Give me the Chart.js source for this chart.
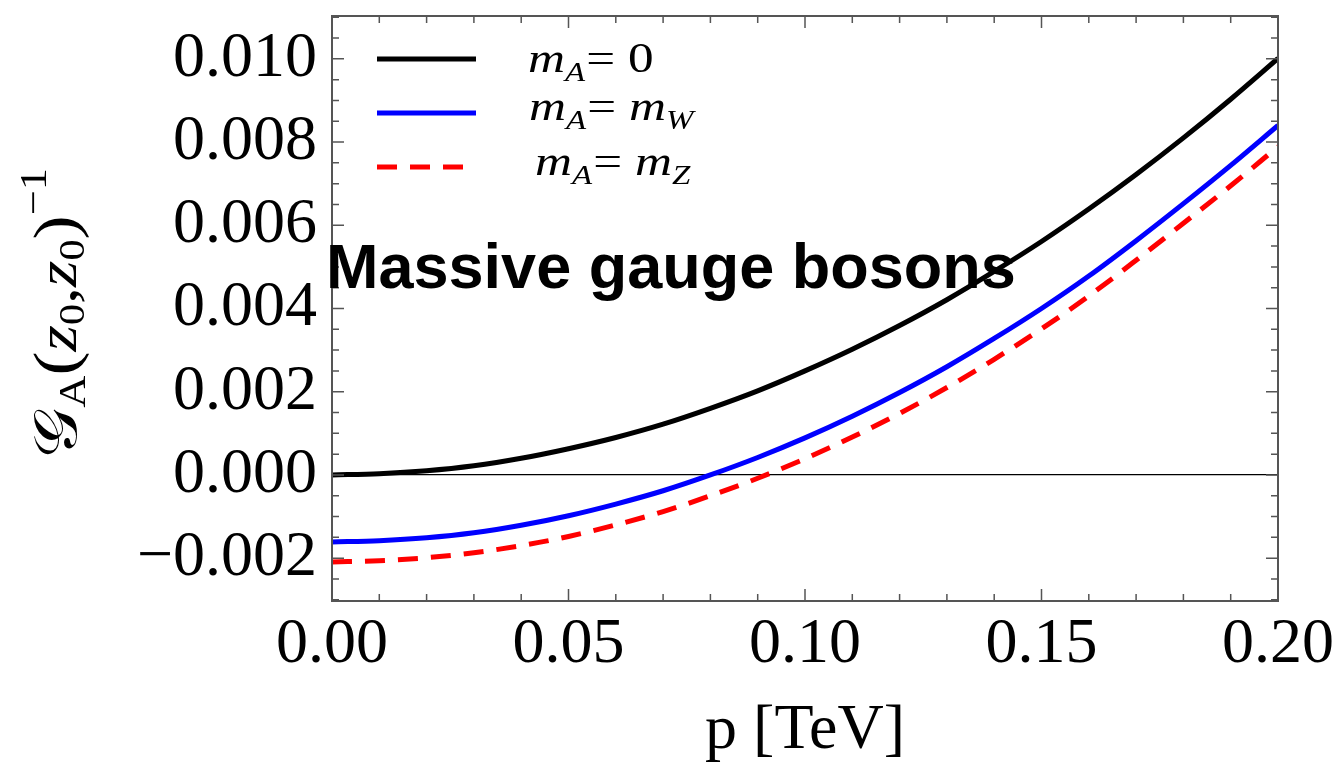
<!DOCTYPE html>
<html>
<head>
<meta charset="utf-8">
<script src="https://cdn.jsdelivr.net/npm/chart.js@4.4.1/dist/chart.umd.min.js"></script>
<style>
  html, body { margin: 0; padding: 0; background: #fff; }
  #wrap { width: 1339px; height: 766px; }
</style>
</head>
<body>
<div id="wrap"><canvas id="chart" width="1339" height="766"></canvas></div>
<script>
// momentum p [TeV]
const pValues = [0.00, 0.01, 0.02, 0.03, 0.04, 0.05, 0.06, 0.07, 0.08, 0.09, 0.10,
                 0.11, 0.12, 0.13, 0.14, 0.15, 0.16, 0.17, 0.18, 0.19, 0.20];

// G_A(z0,z0)^-1
const massless = [0.00000, 0.00003, 0.00010, 0.00022, 0.00040, 0.00063, 0.00090, 0.00122, 0.00160, 0.00202, 0.00250,
                  0.00302, 0.00359, 0.00421, 0.00489, 0.00561, 0.00639, 0.00722, 0.00810, 0.00903, 0.01001];
const massW = [-0.00161, -0.00158, -0.00151, -0.00139, -0.00121, -0.00098, -0.00070, -0.00038, 0.00000, 0.00042, 0.00089,
               0.00141, 0.00198, 0.00260, 0.00328, 0.00400, 0.00478, 0.00563, 0.00652, 0.00744, 0.00840];
const massZ = [-0.00209, -0.00206, -0.00199, -0.00187, -0.00170, -0.00148, -0.00120, -0.00088, -0.00050, -0.00008, 0.00039,
               0.00091, 0.00148, 0.00210, 0.00278, 0.00351, 0.00430, 0.00516, 0.00605, 0.00695, 0.00789];

const seriesLabels = ["m_A = 0", "m_A = m_W", "m_A = m_Z"];
const legendRhs = [["0", null], ["m", "W"], ["m", "Z"]];

const xTickValues = [0.00, 0.05, 0.10, 0.15, 0.20];
const xTickLabels = ["0.00", "0.05", "0.10", "0.15", "0.20"];
const yTickValues = [-0.002, 0.000, 0.002, 0.004, 0.006, 0.008, 0.010];
const yTickLabels = ["\u22120.002", "0.000", "0.002", "0.004", "0.006", "0.008", "0.010"];

const X_MIN = 0, X_MAX = 0.2, Y_MIN = -0.00303, Y_MAX = 0.01103;

const toPoints = (ys) => pValues.map((p, i) => ({ x: p, y: ys[i] }));
const SERIF = '"Liberation Serif", "Times New Roman", serif';

// frame with inward ticks on all four sides, like Mathematica
const framePlugin = {
    id: "frame",
    afterDatasetsDraw(chart) {
        const { ctx, chartArea: a, scales } = chart;
        const xs = scales.x, ys = scales.y;
        ctx.save();
        ctx.strokeStyle = "#555";
        ctx.lineWidth = 1.5;
        ctx.beginPath();
        for (let i = 0; i <= 20; i++) {
            const px = xs.getPixelForValue(i * 0.01);
            const len = i % 5 === 0 ? 12 : 7;
            ctx.moveTo(px, a.bottom); ctx.lineTo(px, a.bottom - len);
            ctx.moveTo(px, a.top); ctx.lineTo(px, a.top + len);
        }
        for (let i = -6; i <= 22; i++) {
            const py = ys.getPixelForValue(i * 0.0005);
            if (py < a.top || py > a.bottom) continue;
            const len = i % 4 === 0 ? 12 : 7;
            ctx.moveTo(a.left, py); ctx.lineTo(a.left + len, py);
            ctx.moveTo(a.right, py); ctx.lineTo(a.right - len, py);
        }
        ctx.stroke();
        ctx.lineWidth = 2;
        ctx.strokeRect(a.left, a.top, a.right - a.left, a.bottom - a.top);
        ctx.restore();
    },
    afterDraw(chart) {
        const { ctx } = chart;
        ctx.save();
        ctx.fillStyle = "#000";
        ctx.textBaseline = "alphabetic";
        ctx.textAlign = "left";

        // legend (sample line + m_A = ...)
        const rowBase = [72, 120, 175];
        const rowLeft = [528, 529, 535];
        chart.data.datasets.forEach((ds, i) => {
            const ly = [59, 113, 167][i];
            ctx.save();
            ctx.strokeStyle = ds.borderColor;
            ctx.lineWidth = ds.borderWidth;
            ctx.setLineDash(ds.borderDash || []);
            ctx.beginPath();
            ctx.moveTo(377, ly);
            ctx.lineTo(476, ly);
            ctx.stroke();
            ctx.restore();

            ctx.save();
            ctx.translate(rowLeft[i], rowBase[i]);
            ctx.scale(1.22, 1);
            let x = 0;
            ctx.font = "italic 42px " + SERIF;
            ctx.fillText("m", x, 0); x += ctx.measureText("m").width;
            ctx.font = "italic 27px " + SERIF;
            ctx.fillText("A", x, 9); x += ctx.measureText("A").width + 1;
            ctx.font = "42px " + SERIF;
            ctx.fillText("= ", x, 0); x += ctx.measureText("= ").width;
            const [main, sub] = legendRhs[i];
            if (sub) {
                ctx.font = "italic 42px " + SERIF;
                ctx.fillText(main, x, 0); x += ctx.measureText(main).width;
                ctx.font = "italic 27px " + SERIF;
                ctx.fillText(sub, x, 9);
            } else {
                ctx.font = "42px " + SERIF;
                ctx.fillText(main, x, 0);
            }
            ctx.restore();
        });

        // inset label
        ctx.font = 'bold 63px "Liberation Sans", Arial, sans-serif';
        ctx.fillText("Massive gauge bosons", 326, 288);

        // y axis title: G_A(z0,z0)^-1, rotated
        const segs = [
            { t: "\uD835\uDCA2", f: "60px " + SERIF, dy: 0 },
            { t: "A", f: "38px " + SERIF, dy: 9 },
            { t: "(", f: "62px " + SERIF, dy: 0 },
            { t: "z", f: "italic 58px " + SERIF, dy: 0 },
            { t: "0", f: "36px " + SERIF, dy: 8 },
            { t: ",", f: "58px " + SERIF, dy: 0 },
            { t: "z", f: "italic 58px " + SERIF, dy: 0 },
            { t: "0", f: "36px " + SERIF, dy: 8 },
            { t: ")", f: "62px " + SERIF, dy: 0 },
            { t: "\u22121", f: "38px " + SERIF, dy: -30 }
        ];
        let total = 0;
        segs.forEach(s => { ctx.font = s.f; s.w = ctx.measureText(s.t).width; total += s.w; });
        ctx.translate(76, 313);
        ctx.rotate(-Math.PI / 2);
        ctx.scale(1.17, 1);
        let tx = -total / 2;
        segs.forEach(s => { ctx.font = s.f; ctx.fillText(s.t, tx, s.dy); tx += s.w; });
        ctx.restore();
    }
};

const ctx = document.getElementById("chart");
new Chart(ctx, {
    type: "line",
    data: {
        datasets: [
            { label: seriesLabels[0], data: toPoints(massless), borderColor: "#000000", borderWidth: 5 },
            { label: seriesLabels[1], data: toPoints(massW), borderColor: "#0000ff", borderWidth: 5 },
            { label: seriesLabels[2], data: toPoints(massZ), borderColor: "#ff0000", borderWidth: 5, borderDash: [20, 13] }
        ]
    },
    options: {
        responsive: false,
        animation: false,
        devicePixelRatio: 1,
        elements: { point: { radius: 0 }, line: { cubicInterpolationMode: "monotone", fill: false } },
        layout: { padding: { top: 16, right: 61, left: 0, bottom: 0 } },
        plugins: { legend: { display: false }, tooltip: { enabled: false } },
        scales: {
            x: {
                type: "linear",
                min: X_MIN, max: X_MAX,
                afterBuildTicks: (s) => { s.ticks = xTickValues.map(v => ({ value: v })); },
                afterFit: (s) => { s.height = 165; s.paddingLeft = 0; s.paddingRight = 0; },
                ticks: {
                    autoSkip: false, maxRotation: 0, padding: 6,
                    color: "#000", font: { family: SERIF, size: 64 },
                    callback: (v) => { const i = xTickValues.findIndex(t => Math.abs(t - v) < 1e-9); return i >= 0 ? xTickLabels[i] : ""; }
                },
                grid: { display: false, drawTicks: false },
                border: { display: false },
                title: { display: true, text: "p [TeV]", color: "#000", font: { family: SERIF, size: 64 }, padding: { top: 0, bottom: -4 } }
            },
            y: {
                type: "linear",
                min: Y_MIN, max: Y_MAX,
                afterBuildTicks: (s) => { s.ticks = yTickValues.map(v => ({ value: v })); },
                afterFit: (s) => { s.width = 332; s.paddingTop = 0; s.paddingBottom = 0; },
                ticks: {
                    autoSkip: false, padding: 15,
                    color: "#000", font: { family: SERIF, size: 64 },
                    callback: (v) => { const i = yTickValues.findIndex(t => Math.abs(t - v) < 1e-9); return i >= 0 ? yTickLabels[i] : ""; }
                },
                grid: {
                    drawTicks: false,
                    lineWidth: 1.3,
                    color: (c) => (c.tick && Math.abs(c.tick.value) < 1e-9 ? "#000" : "rgba(0,0,0,0)")
                },
                border: { display: false }
            }
        }
    },
    plugins: [framePlugin]
});
</script>
</body>
</html>
